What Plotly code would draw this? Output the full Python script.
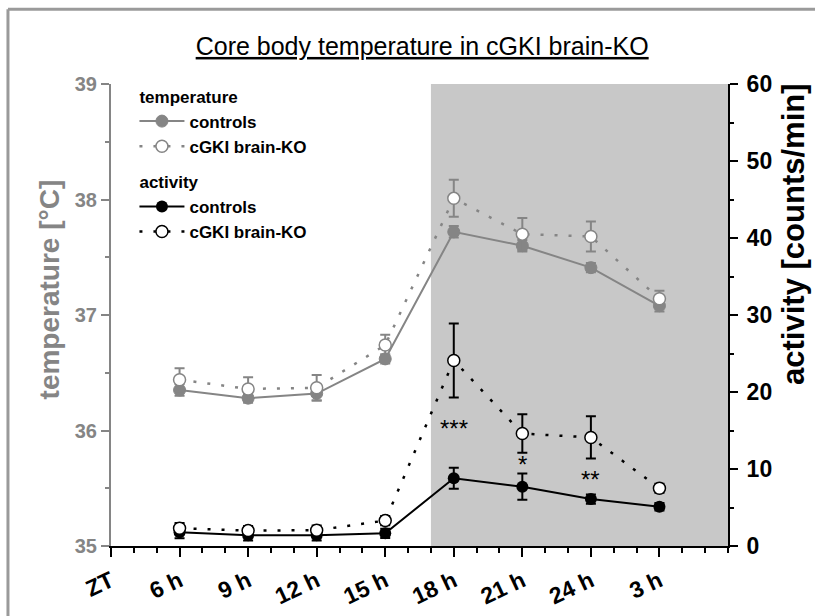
import plotly.graph_objects as go

# ---- data ----
hours = [6, 9, 12, 15, 18, 21, 24, 27]
tick_vals = [3, 6, 9, 12, 15, 18, 21, 24, 27]
tick_text = ["ZT", "6 h", "9 h", "12 h", "15 h", "18 h", "21 h", "24 h", "3 h"]

temp_ctrl = [36.35, 36.28, 36.32, 36.62, 37.72, 37.60, 37.41, 37.08]
temp_ctrl_err = [0.05, 0.04, 0.06, 0.04, 0.05, 0.05, 0.04, 0.05]
temp_ko = [36.44, 36.36, 36.37, 36.74, 38.01, 37.70, 37.68, 37.14]
temp_ko_err = [0.10, 0.10, 0.11, 0.09, 0.16, 0.14, 0.13, 0.07]

act_ctrl = [1.8, 1.4, 1.4, 1.65, 8.8, 7.7, 6.1, 5.1]
act_ctrl_err = [0.8, 0.7, 0.7, 0.6, 1.35, 1.7, 0.6, 0.5]
act_ko = [2.3, 2.0, 2.05, 3.3, 24.1, 14.6, 14.1, 7.5]
act_ko_err = [0.7, 0.6, 0.6, 0.6, 4.8, 2.5, 2.75, 0.6]

star_x = [18, 21, 24]
star_y = [15.3, 10.6, 8.7]
star_text = ["***", "*", "**"]

dark_start, dark_end = 17, 30

GRAY = "#858585"
FONT = "Liberation Sans, Arial, sans-serif"
DOT = "3px,11px"

fig = go.Figure()

fig.add_trace(go.Scatter(
    x=hours, y=temp_ctrl, mode="lines+markers", name="controls",
    line=dict(color=GRAY, width=2),
    marker=dict(size=12, color=GRAY, line=dict(color=GRAY, width=1)),
    error_y=dict(type="data", array=temp_ctrl_err, color=GRAY, thickness=2, width=5),
    legendgroup="temp", legendgrouptitle=dict(text="temperature"),
    yaxis="y"))
fig.add_trace(go.Scatter(
    x=hours, y=temp_ko, mode="lines+markers", name="cGKI brain-KO",
    line=dict(color=GRAY, width=2.5, dash=DOT),
    marker=dict(size=12, color="white", line=dict(color=GRAY, width=1.5)),
    error_y=dict(type="data", array=temp_ko_err, color=GRAY, thickness=2, width=5),
    legendgroup="temp", yaxis="y"))
fig.add_trace(go.Scatter(
    x=hours, y=act_ctrl, mode="lines+markers", name="controls",
    line=dict(color="black", width=2),
    marker=dict(size=12, color="black"),
    error_y=dict(type="data", array=act_ctrl_err, color="black", thickness=2, width=5),
    legendgroup="act", legendgrouptitle=dict(text="activity"),
    yaxis="y2"))
fig.add_trace(go.Scatter(
    x=hours, y=act_ko, mode="lines+markers", name="cGKI brain-KO",
    line=dict(color="black", width=2.5, dash=DOT),
    marker=dict(size=12, color="white", line=dict(color="black", width=1.5)),
    error_y=dict(type="data", array=act_ko_err, color="black", thickness=2, width=5),
    legendgroup="act", yaxis="y2"))

for sx, sy, st in zip(star_x, star_y, star_text):
    fig.add_annotation(x=sx, y=sy, xref="x", yref="y2", text=st, showarrow=False,
                       font=dict(family=FONT, size=24, color="black"))

# axis titles (placed as annotations to follow the original's offset)
fig.add_annotation(text="<b>temperature [°C]</b>", textangle=-90, showarrow=False,
                   xref="paper", yref="paper", x=-0.1, y=0.556,
                   xanchor="center", yanchor="middle",
                   font=dict(family=FONT, size=28, color=GRAY))
fig.add_annotation(text="<b>activity [counts/min]</b>", textangle=-90, showarrow=False,
                   xref="paper", yref="paper", x=1.105, y=0.675,
                   xanchor="center", yanchor="middle",
                   font=dict(family=FONT, size=31, color="black"))

fig.add_shape(type="rect", xref="x", yref="paper", x0=dark_start, x1=dark_end,
              y0=0, y1=1, fillcolor="#c8c8c8", line=dict(width=0), layer="below")
# outer frame (top and left edges visible)
fig.add_shape(type="line", xref="paper", yref="paper", x0=-0.167, x1=1.6,
              y0=1.162, y1=1.162, line=dict(color="#9a9a9a", width=3))
fig.add_shape(type="line", xref="paper", yref="paper", x0=-0.167, x1=-0.167,
              y0=-0.5, y1=1.162, line=dict(color="#9a9a9a", width=3))

fig.update_layout(
    width=815, height=616,
    margin=dict(l=111, r=87, t=84, b=70, autoexpand=False),
    paper_bgcolor="white", plot_bgcolor="white",
    font=dict(family=FONT, color="black"),
    title=dict(text="<u>Core body temperature in cGKI brain-KO</u>",
               x=0.518, xref="container", y=0.925, yref="container",
               xanchor="center", yanchor="middle",
               font=dict(family=FONT, size=25, color="black")),
    showlegend=True,
    legend=dict(x=0.038, y=1.012, xanchor="left", yanchor="top",
                bgcolor="rgba(0,0,0,0)", itemwidth=45,
                font=dict(family=FONT, size=17, color="black", weight="bold"),
                grouptitlefont=dict(family=FONT, size=17, color="black", weight="bold"),
                tracegroupgap=10),
    xaxis=dict(range=[3, 30], tickmode="array", tickvals=tick_vals, ticktext=tick_text,
               tickangle=-25, ticks="outside", ticklen=9, tickwidth=1.5, tickcolor="black",
               showline=True, linecolor="black", linewidth=1.5, showgrid=False, zeroline=False,
               ticklabelstandoff=2, automargin=False,
               tickfont=dict(family=FONT, size=23, color="black", weight="bold"),
               minor=dict(tickmode="array", tickvals=list(range(3, 31)), ticks="outside",
                          ticklen=5, tickwidth=1.5, tickcolor="black")),
    yaxis=dict(range=[35, 39], dtick=1, ticks="outside", ticklen=8, tickwidth=1.5,
               tickcolor=GRAY, showline=True, linecolor=GRAY, linewidth=2,
               showgrid=False, zeroline=False, automargin=False,
               tickfont=dict(family=FONT, size=20, color=GRAY, weight="bold"),
               minor=dict(dtick=0.5, ticks="outside", ticklen=4, tickwidth=1.5, tickcolor=GRAY)),
    yaxis2=dict(range=[0, 60], dtick=10, overlaying="y", side="right",
                ticks="outside", ticklen=8, tickwidth=1.5, tickcolor="black",
                showline=True, linecolor="black", linewidth=2,
                showgrid=False, zeroline=False, ticklabelstandoff=4, automargin=False,
                tickfont=dict(family=FONT, size=23, color="black", weight="bold"),
                minor=dict(dtick=5, ticks="outside", ticklen=4, tickwidth=1.5, tickcolor="black")),
)

fig.write_html("out.html")
